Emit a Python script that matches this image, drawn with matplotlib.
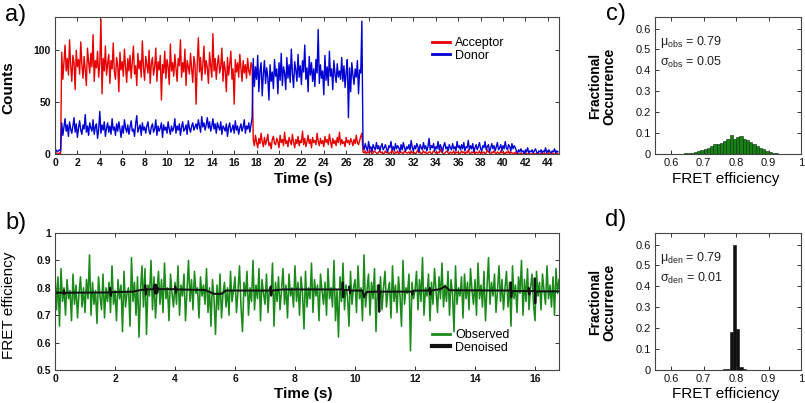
import numpy as np
import matplotlib
matplotlib.use('Agg')
import matplotlib.pyplot as plt

plt.rcParams['font.family'] = ['Liberation Sans', 'DejaVu Sans']
plt.rcParams['mathtext.fontset'] = 'custom'
plt.rcParams['mathtext.rm'] = 'Liberation Sans'
plt.rcParams['mathtext.it'] = 'Liberation Sans:italic'
plt.rcParams['mathtext.default'] = 'regular'

# ---------------- panel a: intensity traces (sampled every 0.1 s) ----------------
dt_a = 0.1
acceptor_pre = [0, 1, 0, 0, 1, 0]
acceptor_fret = [
    98, 72, 88, 105, 80, 92, 76, 110, 85, 70, 95, 88, 62, 100, 84, 91, 77, 108, 86, 73,
    94, 81, 66, 102, 89, 78, 97, 84, 115, 70, 90, 83, 99, 74, 88, 130, 58, 92, 80, 104,
    76, 87, 96, 68, 90, 82, 107, 79, 72, 93, 86, 60, 98, 81, 89, 75, 101, 84, 69, 92,
    80, 95, 73, 88, 104, 77, 85, 66, 97, 82, 90, 74, 109, 83, 71, 94, 86, 78, 100, 68,
    87, 93, 76, 84, 102, 70, 89, 81, 95, 52, 86, 78, 99, 73, 91, 84, 67, 106, 80, 88,
    75, 96, 83, 70, 92, 85, 110, 74, 88, 79, 101, 66, 90, 84, 77, 97, 82, 69, 94, 86,
    48, 88, 112, 79, 93, 71, 86, 104, 77, 90, 83, 68, 98, 85, 74, 116, 80, 92, 72, 87,
    95, 78, 84, 102, 70, 89, 81, 60, 93, 76, 86, 99, 72, 82, 48, 91, 79, 88, 74, 96,
    83, 70, 90, 78, 86, 73, 92, 80, 76, 88, 85]
acceptor_low = [
    14, 8, 18, 11, 6, 15, 10, 20, 12, 7, 16, 9, 13, 19, 8, 11, 5, 14, 17, 10,
    9, 15, 12, 6, 18, 11, 14, 8, 21, 10, 13, 7, 16, 12, 9, 19, 11, 6, 14, 10,
    17, 8, 13, 11, 22, 9, 15, 7, 12, 18, 10, 14, 6, 16, 11, 13, 9, 20, 12, 8,
    15, 10, 13, 7, 17, 11, 14, 9, 19, 12, 6, 15, 10, 13, 8, 16, 11, 21, 9, 14,
    10, 12, 7, 16, 11, 13, 9, 15, 12, 8, 14, 10, 18, 11, 9, 13, 17, 20]
acceptor_bleached = [
    2, 1, 3, 0, 2, 1, 4, 2, 0, 1, 3, 2, 1, 0, 2, 3, 1, 2, 0, 1,
    3, 1, 2, 0, 1, 2, 4, 1, 0, 2, 1, 3, 0, 1, 2, 1, 0, 3, 2, 1,
    1, 2, 0, 3, 1, 2, 1, 0, 2, 4, 1, 2, 0, 1, 3, 1, 2, 0, 1, 2,
    2, 0, 1, 3, 2, 1, 0, 2, 1, 5, 2, 1, 0, 1, 2, 3, 1, 0, 2, 1,
    1, 3, 0, 2, 1, 2, 0, 1, 3, 1, 2, 0, 2, 1, 4, 1, 0, 2, 1, 3,
    0, 2, 1, 1, 3, 0, 2, 1, 2, 0, 1, 4, 2, 1, 0, 2, 1, 3, 1, 0,
    2, 1, 0, 3, 1, 2, 1, 0, 2, 1, 3, 0, 2, 1, 1, 0, 2]
acceptor_end = [0, 1, 0, 0, 1, 0, 0, 0, 1, 0, 0, 1, 0, 0, 0, 1, 0, 0, 1, 0,
                0, 0, 1, 0, 0, 1, 0, 0, 0, 1, 0, 0, 1, 0, 0, 0, 1, 0]

donor_pre = [3, 4, 2, 3, 4, 3]
donor_fret = [
    30, 18, 26, 34, 22, 28, 17, 31, 24, 20, 27, 35, 21, 29, 16, 25, 32, 23, 19, 28,
    24, 38, 21, 27, 18, 30, 25, 22, 33, 19, 26, 29, 15, 24, 41, 20, 28, 23, 31, 17,
    25, 30, 21, 27, 19, 34, 23, 26, 18, 29, 22, 31, 24, 16, 27, 20, 33, 25, 21, 28,
    19, 26, 32, 22, 24, 17, 29, 37, 21, 25, 28, 18, 30, 23, 26, 20, 27, 31, 22, 19,
    26, 29, 21, 24, 33, 18, 27, 22, 25, 30, 16, 28, 23, 26, 20, 31, 24, 19, 27, 22,
    25, 34, 20, 27, 23, 29, 18, 26, 31, 22, 24, 28, 19, 32, 25, 21, 27, 30, 23, 26,
    29, 24, 33, 27, 21, 36, 26, 30, 23, 28, 35, 25, 31, 22, 27, 34, 24, 29, 20, 30,
    26, 23, 31, 19, 27, 25, 22, 29, 17, 26, 30, 21, 24, 28, 20, 32, 23, 27, 19, 25,
    29, 22, 26, 33, 20, 27, 24, 30, 21, 28, 35]
donor_high = [
    92, 65, 84, 72, 95, 60, 80, 88, 56, 77, 90, 68, 83, 74, 52, 86, 70, 79, 63, 91,
    75, 82, 58, 88, 71, 97, 66, 84, 78, 62, 93, 73, 86, 69, 101, 77, 64, 89, 81, 70,
    96, 74, 85, 67, 90, 79, 105, 72, 83, 60, 94, 76, 88, 70, 82, 65, 91, 78, 120, 68,
    86, 73, 80, 57, 95, 71, 84, 66, 99, 75, 82, 62, 90, 77, 69, 87, 74, 80, 72, 93,
    70, 85, 64, 79, 91, 35, 83, 60, 88, 76, 67, 82, 74, 90, 58, 81, 78, 128]
donor_bleached = [
    8, 4, 10, 6, 3, 12, 5, 7, 2, 9, 6, 4, 11, 5, 8, 3, 7, 10, 4, 6,
    9, 5, 2, 8, 6, 12, 4, 7, 3, 10, 5, 8, 6, 2, 9, 4, 11, 6, 3, 7,
    5, 9, 4, 13, 6, 3, 8, 5, 10, 7, 2, 9, 6, 4, 11, 5, 8, 3, 7, 15,
    4, 8, 6, 10, 3, 7, 5, 12, 4, 9, 6, 2, 8, 11, 5, 7, 3, 9, 6, 4,
    10, 5, 7, 3, 12, 6, 8, 4, 9, 5, 11, 3, 7, 6, 13, 4, 8, 5, 10, 2,
    6, 9, 4, 7, 11, 5, 3, 8, 6, 12, 4, 7, 9, 2, 6, 10, 5, 8, 3, 7,
    11, 4, 6, 9, 3, 8, 5, 12, 6, 4, 9, 7, 3, 10, 5, 8, 6]
donor_end = [3, 1, 4, 2, 5, 2, 3, 0, 4, 2, 6, 1, 3, 2, 4, 1, 3, 5, 2, 0,
             3, 2, 4, 1, 3, 2, 6, 1, 3, 4, 2, 1, 3, 2, 5, 1, 3, 2]

# ---------------- panel b: FRET efficiency trace (sampled every 0.05 s, in %) ----------------
dt_b = 0.05
fret_observed_pct = [
    86, 72, 84, 66, 87, 75, 80, 70, 83, 76, 79, 68, 85, 74, 81, 69, 78, 84, 73, 80,
    71, 83, 76, 92, 70, 82, 74, 79, 67, 84, 77, 72, 85, 69, 80, 75, 82, 71, 88, 74,
    79, 68, 83, 76, 81, 64, 86, 73, 78, 80, 66, 91, 75, 82, 70, 84, 62, 79, 88, 73,
    87, 63, 81, 77, 90, 72, 84, 69, 79, 86, 74, 83, 71, 89, 76, 80, 68, 85, 78, 73,
    82, 74, 88, 70, 81, 77, 85, 68, 79, 90, 75, 83, 72, 86, 78, 80, 69, 84, 77, 81,
    74, 87, 71, 80, 66, 83, 76, 63, 81, 72, 85, 69, 78, 82, 73, 80, 70, 86, 75, 79,
    84, 71, 79, 88, 73, 64, 82, 77, 86, 70, 80, 75, 90, 72, 81, 76, 87, 68, 83, 78,
    74, 85, 71, 80, 77, 89, 66, 82, 75, 84, 72, 79, 87, 74, 81, 69, 85, 77, 80, 73,
    88, 75, 82, 70, 84, 78, 65, 86, 73, 80, 76, 89, 71, 83, 77, 81, 68, 85, 79, 74,
    82, 70, 87, 76, 80, 73, 90, 68, 79, 62, 84, 75, 89, 72, 81, 77, 66, 86, 74, 80,
    83, 71, 88, 76, 80, 68, 92, 73, 79, 85, 70, 82, 76, 87, 64, 81, 74, 84, 72, 80,
    86, 73, 79, 82, 69, 88, 75, 81, 71, 84, 77, 66, 90, 74, 80, 78, 85, 57, 82, 76,
    79, 86, 72, 83, 75, 91, 70, 80, 77, 85, 68, 82, 74, 87, 79, 71, 84, 76, 89, 73,
    81, 75, 86, 70, 83, 78, 64, 88, 74, 80, 77, 84, 69, 85, 76, 82, 72, 87, 79, 74,
    83, 70, 89, 76, 81, 73, 86, 68, 80, 91, 74, 82, 77, 85, 71, 79, 88, 75, 83, 72,
    80, 86, 73, 82, 66, 88, 76, 81, 71, 84, 78, 90, 70, 83, 75, 87, 72, 80, 85, 74,
    68, 86, 77, 82, 72, 85, 79, 74, 88, 76, 81, 73, 84, 70, 87, 78, 83]

# denoised trace: (time s, FRET efficiency) nodes
denoised_nodes = [
    (0.00, 0.782), (0.29, 0.782), (0.30, 0.792), (0.31, 0.776), (0.32, 0.782),
    (1.83, 0.783), (1.84, 0.800), (1.86, 0.770), (1.88, 0.784),
    (2.60, 0.786), (2.90, 0.793),
    (3.00, 0.793), (3.01, 0.810), (3.03, 0.775), (3.05, 0.794),
    (3.30, 0.795), (3.31, 0.810), (3.33, 0.780), (3.35, 0.812), (3.37, 0.778),
    (3.39, 0.808), (3.41, 0.782), (3.43, 0.800), (3.45, 0.795),
    (4.00, 0.795), (4.01, 0.805), (4.03, 0.782), (4.05, 0.794),
    (5.00, 0.792), (5.30, 0.778), (5.55, 0.778), (5.70, 0.790),
    (7.18, 0.790), (7.19, 0.805), (7.21, 0.772), (7.23, 0.790),
    (7.60, 0.794),
    (9.58, 0.794), (9.59, 0.820), (9.61, 0.765), (9.63, 0.792),
    (9.80, 0.792), (9.81, 0.805), (9.83, 0.780), (9.85, 0.790),
    (10.25, 0.790), (10.30, 0.765), (10.35, 0.778), (10.40, 0.785),
    (10.78, 0.786), (10.79, 0.810), (10.81, 0.712), (10.83, 0.786),
    (11.90, 0.786), (11.91, 0.775), (11.93, 0.788), (12.00, 0.790),
    (12.48, 0.790), (12.49, 0.800), (12.51, 0.775), (12.53, 0.790),
    (12.85, 0.795), (13.00, 0.806), (13.15, 0.791),
    (15.18, 0.790), (15.19, 0.820), (15.21, 0.765), (15.23, 0.788),
    (15.78, 0.788), (15.79, 0.800), (15.81, 0.775), (15.83, 0.788),
    (15.98, 0.788), (15.99, 0.835), (16.01, 0.743), (16.03, 0.787),
    (16.80, 0.787)]

# ---------------- panels c, d: histograms (bin left edges, width 0.01) ----------------
obs_bins = [0.58, 0.59, 0.60, 0.61, 0.62, 0.63, 0.64, 0.65, 0.66, 0.67, 0.68, 0.69,
            0.70, 0.71, 0.72, 0.73, 0.74, 0.75, 0.76, 0.77, 0.78, 0.79, 0.80, 0.81,
            0.82, 0.83, 0.84, 0.85, 0.86, 0.87, 0.88, 0.89, 0.90, 0.91, 0.92, 0.93, 0.94]
obs_frac = [0.001, 0.001, 0.001, 0.001, 0.002, 0.002, 0.003, 0.004, 0.007, 0.011, 0.016, 0.021,
            0.026, 0.031, 0.038, 0.046, 0.049, 0.052, 0.060, 0.071, 0.089, 0.073, 0.079, 0.087,
            0.073, 0.066, 0.058, 0.049, 0.039, 0.031, 0.022, 0.014, 0.010, 0.006, 0.003, 0.002, 0.001]
den_bins = [0.72, 0.73, 0.74, 0.75, 0.76, 0.77, 0.78, 0.79, 0.80, 0.81, 0.82, 0.83, 0.84]
den_frac = [0.001, 0.001, 0.001, 0.002, 0.003, 0.006, 0.180, 0.600, 0.195, 0.012, 0.004, 0.002, 0.001]
bin_width = 0.01

stats_obs = ('obs', 0.79, 0.05)
stats_den = ('den', 0.79, 0.01)

# ---------------- figure ----------------
W, H = 805, 403
fig = plt.figure(figsize=(W / 100, H / 100), dpi=100)


def rect(x0, y0, x1, y1):
    return [x0 / W, 1 - y1 / H, (x1 - x0) / W, (y1 - y0) / H]


def fxy(x, y):
    return x / W, 1 - y / H


ax_a = fig.add_axes(rect(55, 17, 559, 154))
ax_b = fig.add_axes(rect(55, 233, 559, 370))
ax_c = fig.add_axes(rect(655, 17, 801, 154))
ax_d = fig.add_axes(rect(655, 233, 801, 370))

red = '#e60000'
blue = '#0000d2'
green = '#1b8a1b'

acceptor = np.array(acceptor_pre + acceptor_fret + acceptor_low + acceptor_bleached + acceptor_end)
donor = np.array(donor_pre + donor_fret + donor_high + donor_bleached + donor_end)
t_a = np.arange(len(acceptor)) * dt_a

ax_a.plot(t_a, acceptor, color=red, lw=1.0, label='Acceptor')
ax_a.plot(t_a, donor, color=blue, lw=1.0, label='Donor')
ax_a.set_xlim(0, 45)
ax_a.set_ylim(0, 132)
ax_a.set_xticks(np.arange(0, 45, 2))
ax_a.set_yticks([0, 50, 100])

fret_obs = np.array(fret_observed_pct) / 100.0
t_b = np.arange(len(fret_obs)) * dt_b
den_t = [p[0] for p in denoised_nodes]
den_v = [p[1] for p in denoised_nodes]
ax_b.plot(t_b, fret_obs, color=green, lw=1.15, label='Observed')
ax_b.plot(den_t, den_v, color='#111111', lw=1.4, label='Denoised')
ax_b.set_xlim(0, 16.8)
ax_b.set_ylim(0.5, 1.0)
ax_b.set_xticks(np.arange(0, 17, 2))
ax_b.set_yticks([0.5, 0.6, 0.7, 0.8, 0.9, 1.0])
ax_b.set_yticklabels(['0.5', '0.6', '0.7', '0.8', '0.9', '1'])

ax_c.bar(obs_bins, obs_frac, width=bin_width, align='edge', color='#168216',
         edgecolor='#0a2a0a', linewidth=0.4)
ax_d.bar(den_bins, den_frac, width=bin_width, align='edge', color='#111111',
         edgecolor='#111111', linewidth=0.4)
for ax, st in ((ax_c, stats_obs), (ax_d, stats_den)):
    ax.set_xlim(0.55, 1.0)
    ax.set_ylim(0, 0.655)
    ax.set_xticks([0.6, 0.7, 0.8, 0.9, 1.0])
    ax.set_xticklabels(['0.6', '0.7', '0.8', '0.9', '1'])
    ax.set_yticks([0, 0.1, 0.2, 0.3, 0.4, 0.5, 0.6])
    ax.set_yticklabels(['0', '0.1', '0.2', '0.3', '0.4', '0.5', '0.6'])
    ax.text(0.035, 0.815, r'$\mathrm{\mu_{%s}}$ = %.2f' % (st[0], st[1]),
            transform=ax.transAxes, fontsize=9, color='#222222', va='center')
    ax.text(0.035, 0.668, r'$\mathrm{\sigma_{%s}}$ = %.2f' % (st[0], st[2]),
            transform=ax.transAxes, fontsize=9, color='#222222', va='center')

for ax, bold, lsize in ((ax_a, True, 7.5), (ax_b, True, 7.5), (ax_c, False, 8), (ax_d, False, 8)):
    ax.tick_params(direction='in', top=True, right=True, length=3, width=0.7,
                   labelsize=lsize, pad=3, colors='#333333', labelcolor='#111111')
    for s in ax.spines.values():
        s.set_linewidth(0.8)
        s.set_color('#444444')
    if bold:
        for lab in ax.get_xticklabels() + ax.get_yticklabels():
            lab.set_fontweight('bold')

leg_kw = dict(loc='upper left', bbox_transform=fig.transFigure, frameon=False,
              fontsize=9, borderpad=0, borderaxespad=0, handlelength=1.4,
              handletextpad=0.45, labelspacing=0.05)
la = ax_a.legend(bbox_to_anchor=fxy(432, 37), **leg_kw)
for ln in la.get_lines():
    ln.set_linewidth(2.0)
lb = ax_b.legend(bbox_to_anchor=fxy(432, 329), **leg_kw)
lb.get_lines()[0].set_linewidth(2.0)
lb.get_lines()[1].set_linewidth(3.0)

# axis labels
fig.text(*fxy(8, 88), 'Counts', rotation=90, ha='center', va='center', fontsize=11, fontweight='bold')
fig.text(*fxy(303, 179), 'Time (s)', ha='center', va='center', fontsize=11, fontweight='bold')
fig.text(*fxy(9, 305), 'FRET efficiency', rotation=90, ha='center', va='center', fontsize=11)
fig.text(*fxy(303, 394), 'Time (s)', ha='center', va='center', fontsize=11, fontweight='bold')
for yc in (86, 302):
    fig.text(*fxy(602, yc), 'Fractional\nOccurrence', rotation=90, ha='center', va='center',
             fontsize=10, fontweight='bold', multialignment='center', linespacing=1.0)
for yc in (179, 394):
    fig.text(*fxy(726, yc), 'FRET efficiency', ha='center', va='center', fontsize=11)

# panel letters
for lbl, (x, y) in (('a)', (16, 15)), ('b)', (16, 223)), ('c)', (616, 14)), ('d)', (616, 220))):
    fig.text(*fxy(x, y), lbl, ha='center', va='center', fontsize=17)

fig.savefig('out.png', dpi=100)
